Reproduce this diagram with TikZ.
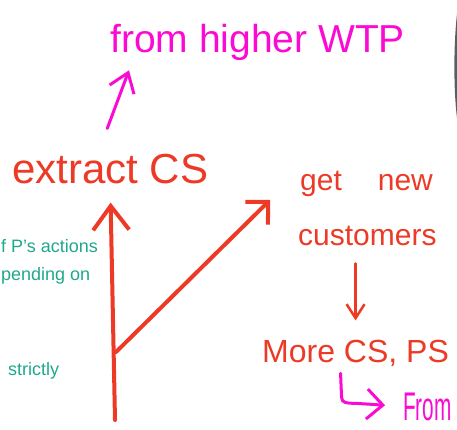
\documentclass[tikz,border=0pt]{standalone}
\usepackage{fontspec}
\setmainfont{Liberation Sans}
\usetikzlibrary{arrows.meta}
\definecolor{penred}{RGB}{236,58,38}
\definecolor{penpink}{RGB}{250,10,210}
\definecolor{penteal}{RGB}{30,168,140}
\definecolor{edgegray}{RGB}{85,98,98}
\begin{document}
\begin{tikzpicture}[x=1pt, y=-1pt, inner sep=0pt,
        redline/.style={penred, line width=4pt, line cap=round, line join=round},
        pinkline/.style={penpink, line width=3pt, line cap=round, line join=round},
        note/.style={penteal, anchor=base west, font=\fontsize{18}{22}\selectfont}]
    \useasboundingbox (0,0) rectangle (457,429);
    \fill[edgegray] (457,14) .. controls (453.5,45) and (453.5,90) .. (457,118) -- cycle;
    % written words
    \node[penpink, anchor=base west, font=\fontsize{39}{44}\selectfont] (higher) at (110,52) {from higher WTP};
    \node[penred, anchor=base west, font=\fontsize{42}{48}\selectfont] (extract) at (12,183) {extract CS};
    \node[penred, anchor=base west, font=\fontsize{30}{36}\selectfont] (getnew) at (300,190) {get\hspace{1.2em}new};
    \node[penred, anchor=base west, font=\fontsize{30}{36}\selectfont] (custs) at (298,245) {customers};
    \node[penred, anchor=base west, font=\fontsize{32}{38}\selectfont] (morecs) at (262,362) {More CS, PS};
    \node[penpink, anchor=base west, font=\fontsize{40}{44}\selectfont] (from) at (403,420) {\scalebox{0.52}[1]{From}};
    \node[note] (actions) at (1,252) {f P's actions};
    \node[note] (depending) at (1,280) {pending on};
    \node[note] (strictly) at (8,375) {strictly};
    % arrows
    \coordinate (root) at (115,420);
    \coordinate (fork) at (116,352);
    \draw[redline, -{Straight Barb[length=24pt,width=36pt]}, shorten >=19pt] (root) -- (extract.south);
    \draw[redline, -{Straight Barb[length=16pt,width=32pt]}, shorten >=42pt] (fork) -- (getnew.north west);
    \draw[redline, line width=2.5pt, -{Straight Barb[length=14pt,width=18pt]}, shorten <=18pt, shorten >=19pt] (custs.south -| morecs.north) -- (morecs.north);
    \draw[pinkline, -{Straight Barb[length=18pt,width=26pt]}] ([xshift=-3pt,yshift=25pt]extract.north) -- ([xshift=19pt,yshift=-10pt]higher.south west);
    \draw[pinkline, -{Straight Barb[length=16pt,width=30pt]}, shorten >=18pt] ([xshift=-15pt,yshift=-7pt]morecs.south) -- ++(1,24) .. controls +(0,6) and +(-8,0) .. ++(14,6) -- (from.west);
\end{tikzpicture}
\end{document}
